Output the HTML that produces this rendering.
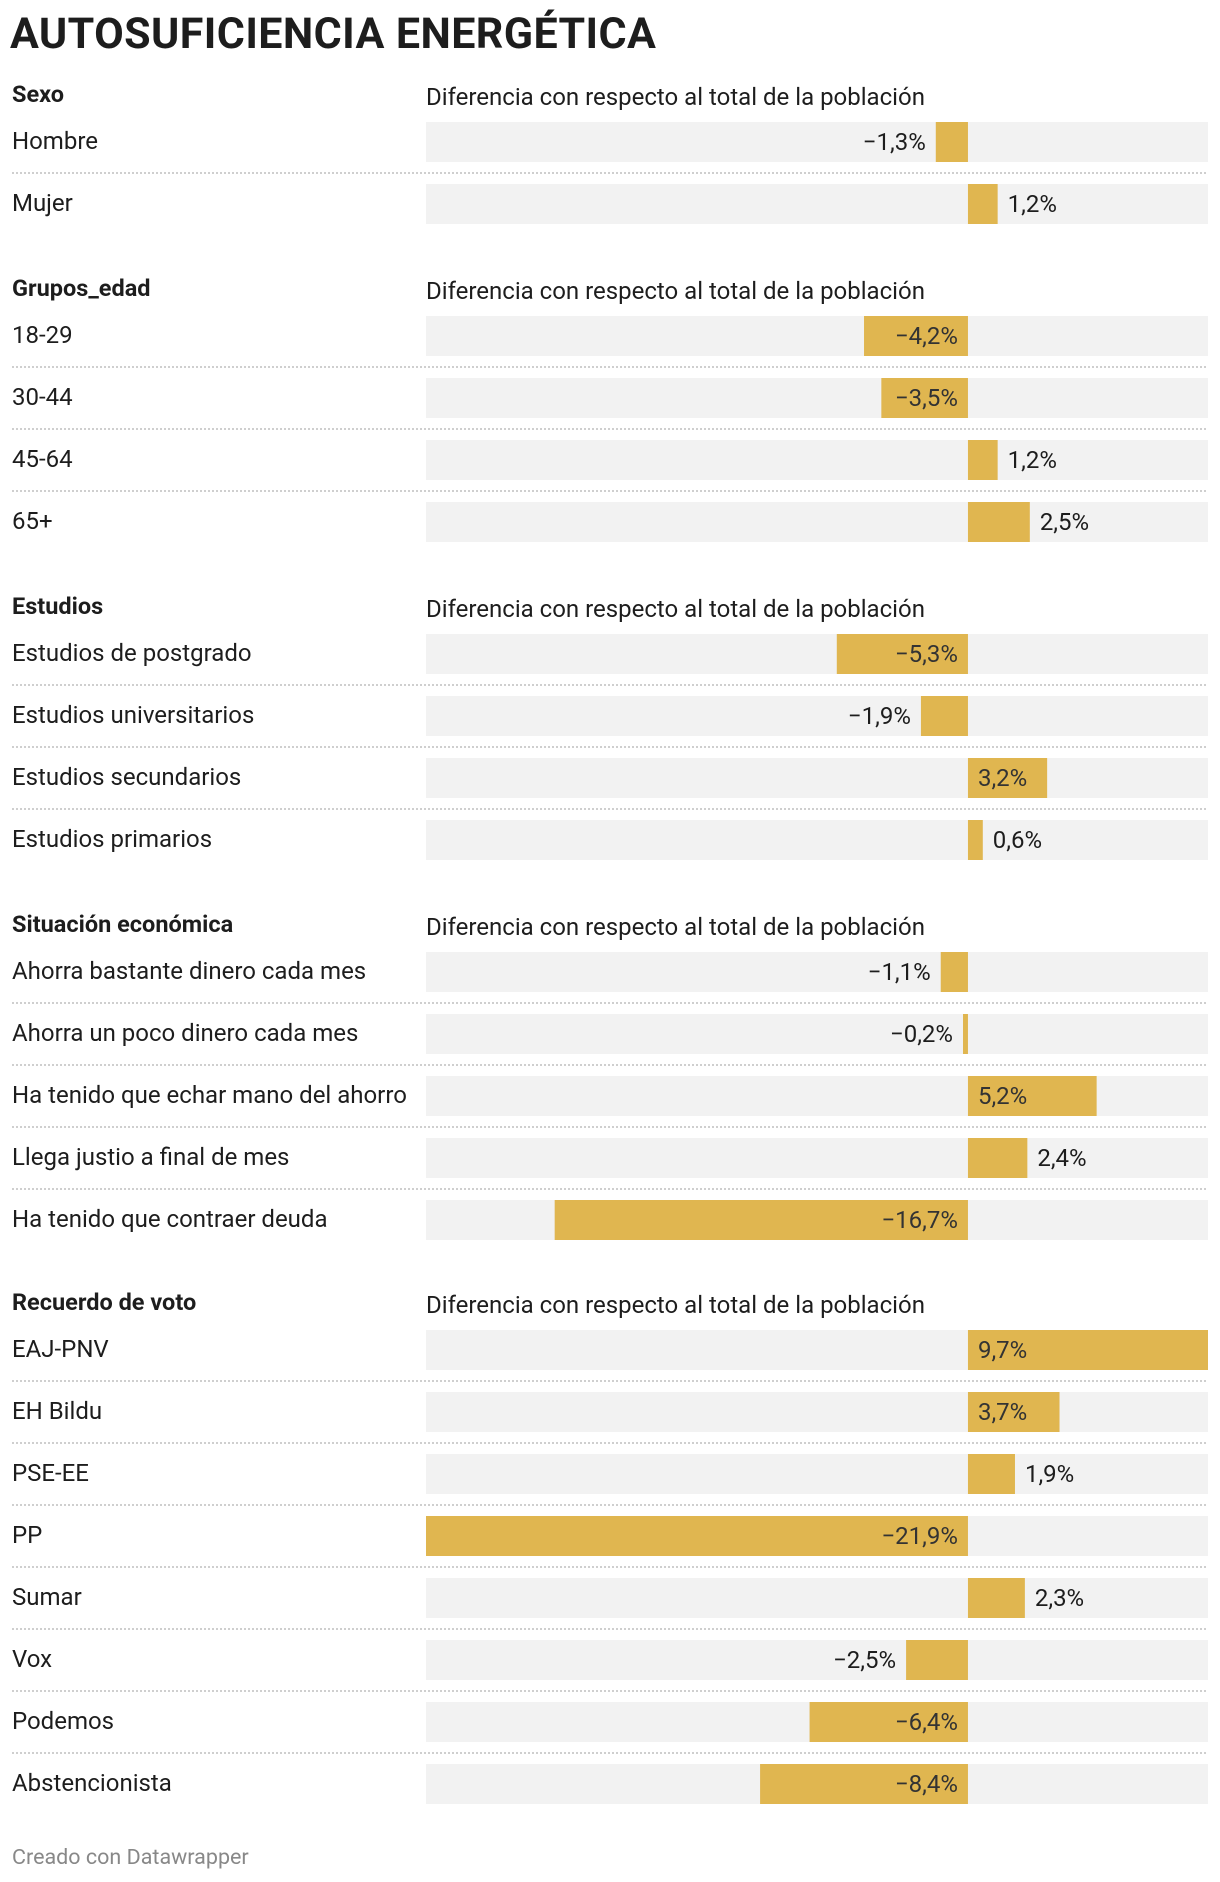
<!DOCTYPE html>
<html><head><meta charset="utf-8"><style>
html,body{margin:0;padding:0;background:#fff;width:1220px;height:1882px;overflow:hidden}
body{font-family:"Roboto","Liberation Sans",sans-serif;color:#1d1d1d;position:relative}
.t{position:absolute;white-space:nowrap}
</style></head><body>
<div class="t" style="left:10px;top:9px;font-size:43px;font-weight:bold;letter-spacing:0.4px">AUTOSUFICIENCIA ENERGÉTICA</div>
<svg id="chart" width="1220" height="1882" style="position:absolute;left:0;top:0"></svg>
<div class="t" style="left:12px;top:1845px;font-size:21.5px;color:#888">Creado con Datawrapper</div>
<script>
const groupTitles = ["Sexo","Grupos_edad","Estudios","Situación económica","Recuerdo de voto"];
const categories = [
 ["Hombre","Mujer"],
 ["18-29","30-44","45-64","65+"],
 ["Estudios de postgrado","Estudios universitarios","Estudios secundarios","Estudios primarios"],
 ["Ahorra bastante dinero cada mes","Ahorra un poco dinero cada mes","Ha tenido que echar mano del ahorro","Llega justio a final de mes","Ha tenido que contraer deuda"],
 ["EAJ-PNV","EH Bildu","PSE-EE","PP","Sumar","Vox","Podemos","Abstencionista"]
];
const values = [
 [-1.3,1.2],
 [-4.2,-3.5,1.2,2.5],
 [-5.3,-1.9,3.2,0.6],
 [-1.1,-0.2,5.2,2.4,-16.7],
 [9.7,3.7,1.9,-21.9,2.3,-2.5,-6.4,-8.4]
];
const domain = [-21.9, 9.7];
const firstBarTops = [122,316,634,952,1330];
const subtitle = "Diferencia con respecto al total de la población";

const NS="http://www.w3.org/2000/svg";
const svg=document.getElementById('chart');
const X0=426,X1=1208,PITCH=62,BH=40;
const FF='Roboto,Liberation Sans,sans-serif';
function x(v){return X0+(v-domain[0])/(domain[1]-domain[0])*(X1-X0);}
function fmt(v){return (v<0?"\u2212":"")+Math.abs(v).toFixed(1).replace('.',',')+"%";}
function el(tag,attrs,text){const e=document.createElementNS(NS,tag);for(const k in attrs)e.setAttribute(k,attrs[k]);if(text!==undefined)e.textContent=text;svg.appendChild(e);return e;}
groupTitles.forEach((g,gi)=>{
  const top=firstBarTops[gi];
  const h=el('text',{x:12,y:top-20,'font-size':23.5,'font-weight':'bold','font-family':FF,fill:'#1d1d1d'},g);
  
  
  const s=el('text',{x:426,y:top-17,'font-size':24,'font-family':FF,fill:'#1d1d1d'},subtitle);
  
  
  categories[gi].forEach((c,i)=>{
    const v=values[gi][i];
    const y=top+i*PITCH;
    if(i>0){
      const l=el('line',{x1:12,x2:X1,y1:y-11,y2:y-11,stroke:'#cfcfcf','stroke-width':2,'stroke-dasharray':'2,2'});
      
      
    }
    const lab=el('text',{x:12,y:y+27,'font-size':24,'font-family':FF,fill:'#1d1d1d'},c);
    
    
    const bg=el('rect',{x:X0,y:y,width:X1-X0,height:BH,fill:'#f2f2f2'});
    
    
    const z=x(0),xv=x(v);
    const b=el('rect',{x:Math.min(z,xv),y:y,width:Math.abs(xv-z),height:BH,fill:'#e0b650'});
    
    
    const w=Math.abs(xv-z);
    const inside=w>70;
    let tx,anchor;
    if(v<0){anchor='end';tx=inside?z-10:xv-10;}else{anchor='start';tx=inside?z+10:xv+10;}
    const t=el('text',{x:tx,y:y+28,'font-size':24,'text-anchor':anchor,'font-family':FF,fill:inside?'#333':'#1d1d1d'},fmt(v));
    
    
  });
});
</script>
</body></html>
